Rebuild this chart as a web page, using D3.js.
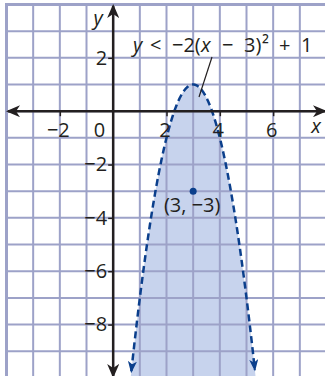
<!DOCTYPE html>
<html>
<head>
<meta charset="utf-8">
<script src="https://cdn.jsdelivr.net/npm/d3@7"></script>
<style>
  body { margin: 0; background: #fff; }
  svg { display: block; }
  text { font-family: "Open Sans", sans-serif; fill: #231f20; }
</style>
</head>
<body>
<svg id="chart"></svg>
<script>
var WIDTH = 325;
var HEIGHT = 376;

// graph window (grid units)
var xDomain = [-4, 8];
var yDomain = [-10, 4];

// tick labels
var xTicks = [-2, 2, 4, 6];
var yTicks = [2, -2, -4, -6, -8];

// inequality y < a(x - h)^2 + k
var a = -2, h = 3, k = 1;
var labelParts = ["y", "<", "\u22122(", "x", "\u2212", "3)", "\u00b2", "+", "1"];
var labelItalic = [true, false, false, true, false, false, false, false, false];

// labelled point
var point = { x: 3, y: -3, label: "(3, \u22123)" };

var svg = d3.select("#chart")
    .attr("width", WIDTH)
    .attr("height", HEIGHT);

var x = d3.scaleLinear().domain([-4, 8]).range([6.5, 326.5]);
var y = d3.scaleLinear().domain([4, -10]).range([4.5, 377.9]);

var gridColor = "#9da2c8";
var curveColor = "#0b3f8c";
var ink = "#231f20";

var defs = svg.append("defs");
//black arrowhead for the axes
defs.append("marker")
    .attr("id", "axisArrow")
    .attr("viewBox", "0 0 14 12")
    .attr("refX", 12).attr("refY", 6)
    .attr("markerWidth", 14).attr("markerHeight", 12)
    .attr("markerUnits", "userSpaceOnUse")
    .attr("orient", "auto-start-reverse")
    .append("path")
    .attr("d", "M0,0 L14,6 L0,12 L4,6 Z")
    .attr("fill", ink);
//blue arrowhead for the curve
defs.append("marker")
    .attr("id", "curveArrow")
    .attr("viewBox", "0 0 12 9")
    .attr("refX", 10).attr("refY", 4.5)
    .attr("markerWidth", 12).attr("markerHeight", 9)
    .attr("markerUnits", "userSpaceOnUse")
    .attr("orient", "auto-start-reverse")
    .append("path")
    .attr("d", "M0,0 L12,4.5 L0,9 L3,4.5 Z")
    .attr("fill", curveColor);

function f(t) { return a * (t - h) * (t - h) + k; }

//shaded region below the parabola
var root = Math.sqrt((k - yDomain[0] + 0.2) / -a);
var fillPts = d3.range(h - root, h + root + 0.001, 0.02);
svg.append("path")
    .datum(fillPts)
    .attr("fill", "#c7d3ed")
    .attr("d", d3.area()
        .x(function(d) { return x(d); })
        .y0(y(yDomain[0] - 0.2))
        .y1(function(d) { return y(f(d)); }));

//grid
var grid = svg.append("g");
grid.selectAll("line.v")
    .data(d3.range(xDomain[0], xDomain[1] + 1))
    .enter().append("line")
    .attr("x1", function(d) { return x(d); })
    .attr("x2", function(d) { return x(d); })
    .attr("y1", y(yDomain[1]) - 1.5)
    .attr("y2", HEIGHT)
    .attr("stroke", gridColor)
    .attr("stroke-width", function(d) { return d === xDomain[0] ? 3 : 2; });
grid.selectAll("line.h")
    .data(d3.range(yDomain[0], yDomain[1] + 1))
    .enter().append("line")
    .attr("y1", function(d) { return y(d); })
    .attr("y2", function(d) { return y(d); })
    .attr("x1", x(xDomain[0]) - 1.5)
    .attr("x2", WIDTH)
    .attr("stroke", gridColor)
    .attr("stroke-width", function(d) { return d === yDomain[1] ? 3 : 2; });

//dashed boundary curve
var tEnd = Math.sqrt((k + 9.75) / -a);
var curvePts = d3.range(h - tEnd, h + tEnd + 0.001, 0.01);
svg.append("path")
    .datum(curvePts)
    .attr("fill", "none")
    .attr("stroke", curveColor)
    .attr("stroke-width", 2.5)
    .attr("stroke-dasharray", "7,4")
    .attr("marker-start", "url(#curveArrow)")
    .attr("marker-end", "url(#curveArrow)")
    .attr("d", d3.line()
        .x(function(d) { return x(d); })
        .y(function(d) { return y(f(d)); }));

//axes with arrows
svg.append("line")
    .attr("x1", 8).attr("x2", WIDTH)
    .attr("y1", y(0)).attr("y2", y(0))
    .attr("stroke", ink).attr("stroke-width", 2.5)
    .attr("marker-start", "url(#axisArrow)")
    .attr("marker-end", "url(#axisArrow)");
svg.append("line")
    .attr("x1", x(0)).attr("x2", x(0))
    .attr("y1", 6).attr("y2", HEIGHT)
    .attr("stroke", ink).attr("stroke-width", 2.5)
    .attr("marker-start", "url(#axisArrow)")
    .attr("marker-end", "url(#axisArrow)");

function fmt(d) { return d < 0 ? "\u2212" + Math.abs(d) : String(d); }

var xAxis = svg.append("g")
    .attr("transform", "translate(0," + y(0) + ")")
    .call(d3.axisBottom(x).tickValues(xTicks).tickSize(5).tickPadding(6.5).tickFormat(fmt));
var yAxis = svg.append("g")
    .attr("transform", "translate(" + x(0) + ",0)")
    .call(d3.axisLeft(y).tickValues(yTicks).tickSize(5).tickPadding(1).tickFormat(fmt));
[xAxis, yAxis].forEach(function(g) {
    g.select(".domain").remove();
    g.selectAll(".tick line").attr("stroke", ink).attr("stroke-width", 1.5);
    g.selectAll(".tick text")
        .style("font-family", "'Open Sans', sans-serif")
        .style("font-size", "20px")
        .attr("fill", ink);
});
xAxis.selectAll(".tick text").attr("dx", "-2");

//origin label and axis names
svg.append("text")
    .attr("x", x(0) - 8).attr("y", y(0) + 26)
    .attr("text-anchor", "end")
    .style("font-size", "20px")
    .text("0");
svg.append("text")
    .attr("x", 316).attr("y", y(0) + 22)
    .attr("text-anchor", "middle")
    .style("font-size", "20px").style("font-style", "italic")
    .text("x");
svg.append("text")
    .attr("x", 98).attr("y", 25)
    .attr("text-anchor", "middle")
    .style("font-size", "20px").style("font-style", "italic")
    .text("y");

//the point and its label
svg.append("circle")
    .attr("cx", x(point.x)).attr("cy", y(point.y))
    .attr("r", 3.5)
    .attr("fill", curveColor);
svg.append("text")
    .attr("x", x(point.x) - 1).attr("y", y(point.y) + 21)
    .attr("text-anchor", "middle")
    .style("font-size", "20px")
    .text(point.label);

//inequality label (pieces spaced like typeset math) with leader line
var labelX = [133, 150, 172, 201, 222, 244, 262, 279, 301];
var lbl = svg.append("text")
    .attr("y", 52)
    .style("font-size", "20px");
lbl.selectAll("tspan")
    .data(labelParts)
    .enter().append("tspan")
    .attr("x", function(d, i) { return labelX[i]; })
    .style("font-style", function(d, i) { return labelItalic[i] ? "italic" : "normal"; })
    .text(function(d) { return d; });
svg.append("line")
    .attr("x1", 212).attr("y1", 57)
    .attr("x2", 199).attr("y2", 97)
    .attr("stroke", ink).attr("stroke-width", 1.2);
</script>
</body>
</html>
